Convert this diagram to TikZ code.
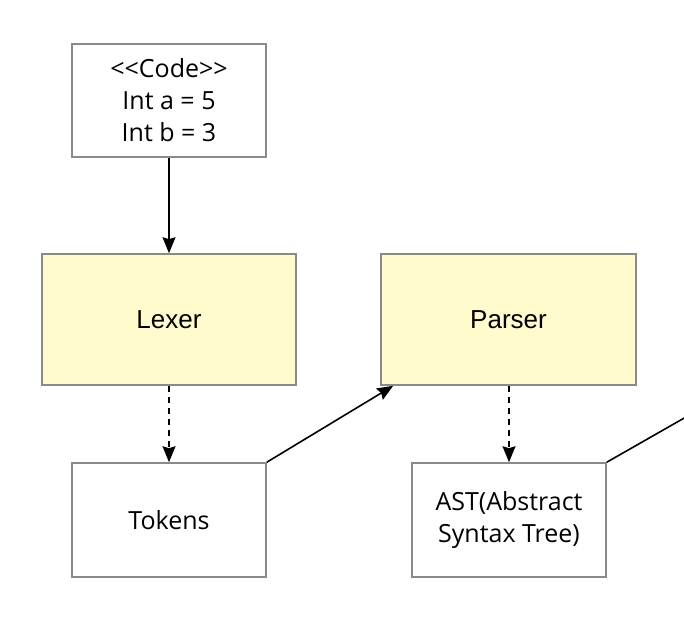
\documentclass[tikz,border=0pt]{standalone}
\usepackage{fontspec}
\setmainfont{Open Sans}[Ligatures=TeXOff]
\newfontfamily\osans{Open Sans}
\newfontfamily\helv{Liberation Sans}
\usetikzlibrary{arrows.meta}
\definecolor{boxgray}{HTML}{8A8A8A}
\definecolor{procfill}{HTML}{FFFBCC}
\tikzset{
  databox/.style={draw=boxgray, line width=1.6pt, fill=white, align=center,
    font=\osans\fontsize{25}{32}\selectfont},
  procbox/.style={draw=boxgray, line width=1.6pt, fill=procfill, align=center,
    font=\helv\fontsize{26}{30}\selectfont},
  flow/.style={line width=1.6pt, -{Stealth[length=16pt,width=13pt,inset=2pt]}},
  dflow/.style={flow, dash pattern=on 6pt off 5pt}
}
\begin{document}
\begin{tikzpicture}[x=1pt,y=-1pt]
\useasboundingbox (0,0) rectangle (684,616);
\node[databox, minimum width=194pt, minimum height=113pt] (code) at (169,100.5) {<<Code>>\\Int a = 5\\Int b = 3};
\node[procbox, minimum width=254pt, minimum height=131pt] (lexer) at (169,319.5) {\raisebox{-2pt}{Lexer}};
\node[procbox, minimum width=255pt, minimum height=131pt] (parser) at (508.5,319.5) {\raisebox{-2pt}{Parser}};
\node[databox, minimum width=194pt, minimum height=114pt] (tokens) at (169,520) {Tokens};
\node[databox, minimum width=194pt, minimum height=114pt] (ast) at (509,520) {AST(Abstract\\Syntax Tree)};
\coordinate (off) at (700,409);
\draw[flow] (code.south) -- (lexer.north);
\draw[dflow] (lexer.south) -- (tokens.north);
\draw[dflow] (parser.south -| ast.north) -- (ast.north);
\draw[flow] (tokens.north east) -- ([xshift=13pt]parser.south west);
\draw[line width=1.6pt] (ast.north east) -- (off);
\end{tikzpicture}
\end{document}
